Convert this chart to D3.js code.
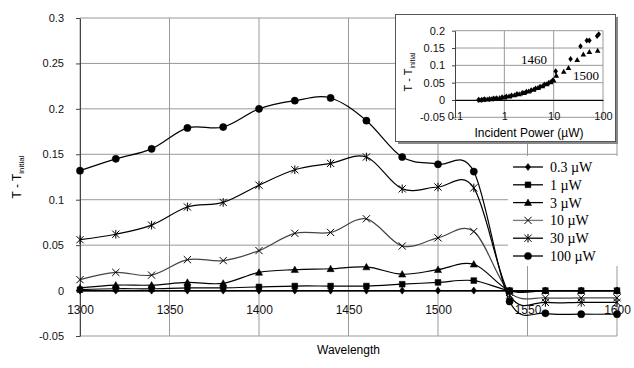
<!DOCTYPE html>
<html>
<head>
<meta charset="utf-8">
<script src="https://cdn.jsdelivr.net/npm/d3@7"></script>
<style>
  body { margin: 0; background: #fff; }
  svg { display: block; }
</style>
</head>
<body>
<div id="chart"></div>
<script>
// wavelength axis (nm)
const wavelengths = [1300, 1320, 1340, 1360, 1380, 1400, 1420, 1440, 1460, 1480, 1500, 1520, 1540, 1560, 1580, 1600];

// T - T_initial per incident power
const p03 = [0, 0, 0, 0, 0, 0, 0, 0, 0, 0, 0, 0, 0, 0, 0, 0];
const p1 = [0.001, 0.002, 0.002, 0.003, 0.003, 0.004, 0.005, 0.005, 0.005, 0.007, 0.009, 0.011, 0, 0, 0, 0];
const p3 = [0.003, 0.006, 0.006, 0.009, 0.008, 0.020, 0.023, 0.024, 0.026, 0.018, 0.023, 0.029, 0, 0, 0, 0];
const p10 = [0.012, 0.020, 0.017, 0.034, 0.033, 0.044, 0.063, 0.064, 0.079, 0.049, 0.058, 0.065, -0.002, -0.008, -0.008, -0.008];
const p30 = [0.056, 0.062, 0.072, 0.092, 0.097, 0.116, 0.133, 0.140, 0.147, 0.112, 0.114, 0.113, -0.005, -0.013, -0.013, -0.013];
const p100 = [0.132, 0.145, 0.156, 0.179, 0.180, 0.200, 0.209, 0.212, 0.187, 0.147, 0.139, 0.131, -0.012, -0.025, -0.026, -0.026];

const seriesNames = ['0.3 \u00b5W', '1 \u00b5W', '3 \u00b5W', '10 \u00b5W', '30 \u00b5W', '100 \u00b5W'];
const seriesValues = [p03, p1, p3, p10, p30, p100];
const seriesMarkers = ['diamond', 'square', 'triangle', 'times', 'star', 'circle'];
const seriesColors = ['#000', '#000', '#000', '#444', '#000', '#000'];

const xTicks = [1300, 1350, 1400, 1450, 1500, 1550, 1600];
const yTicks = [-0.05, 0, 0.05, 0.1, 0.15, 0.2, 0.25, 0.3];

// inset: T - T_initial vs incident power (uW) at 1460 and 1500 nm
const power1460 = [0.3, 0.35, 0.4, 0.5, 0.6, 0.7, 0.9, 1.1, 1.4, 1.8, 2.3, 2.8, 3.5, 4.3, 5.3, 6.5, 8, 9.5, 11, 22, 35, 47, 53, 76, 82];
const dT1460 = [0.001, 0.001, 0.002, 0.003, 0.004, 0.005, 0.008, 0.010, 0.013, 0.017, 0.020, 0.024, 0.028, 0.033, 0.038, 0.045, 0.050, 0.056, 0.083, 0.118, 0.155, 0.172, 0.172, 0.185, 0.190];
const power1500 = [0.32, 0.38, 0.45, 0.55, 0.65, 0.8, 1.0, 1.25, 1.6, 2.0, 2.5, 3.1, 3.9, 4.8, 5.9, 7.2, 8.7, 10, 11.3, 16, 20, 30, 40, 53, 78];
const dT1500 = [0, 0.001, 0.002, 0.003, 0.004, 0.006, 0.008, 0.011, 0.014, 0.017, 0.021, 0.025, 0.030, 0.035, 0.040, 0.046, 0.052, 0.057, 0.071, 0.082, 0.093, 0.116, 0.132, 0.139, 0.143];
const insetXTicks = [0.1, 1, 10, 100];
const insetYTicks = [-0.05, 0, 0.05, 0.1, 0.15, 0.2];

const width = 634, height = 368;
const margin = { top: 18, right: 17, bottom: 32, left: 80 };
const sans = 'Liberation Sans, Arial, sans-serif';
const serif = 'Liberation Serif, Times New Roman, serif';

const svg = d3.select('#chart').append('svg')
  .attr('width', width)
  .attr('height', height);

const x = d3.scaleLinear().domain([1300, 1600]).range([margin.left, width - margin.right]);
const y = d3.scaleLinear().domain([-0.05, 0.3]).range([height - margin.bottom, margin.top]);

// marker paths, centred on 0,0
function marker(type, s) {
  switch (type) {
    case 'diamond': return `M0,${-s}L${s * 0.75},0L0,${s}L${-s * 0.75},0Z`;
    case 'square': return `M${-s * 0.8},${-s * 0.8}h${s * 1.6}v${s * 1.6}h${-s * 1.6}Z`;
    case 'triangle': return `M0,${-s}L${s},${s * 0.8}L${-s},${s * 0.8}Z`;
    case 'times': return `M${-s},${-s}L${s},${s}M${-s},${s}L${s},${-s}`;
    case 'star': return `M${-s},${-s}L${s},${s}M${-s},${s}L${s},${-s}M0,${-s * 1.2}L0,${s * 1.2}`;
    default: return d3.symbol(d3.symbolCircle, Math.PI * s * s)();
  }
}
const isStroke = t => t === 'times' || t === 'star';
const num = d => String(+(+d).toFixed(2));

// ===== grid =====
const grid = svg.append('g');
grid.selectAll('.hgrid')
  .data(yTicks)
  .join('line')
  .attr('x1', x(1300)).attr('x2', x(1600))
  .attr('y1', d => y(d)).attr('y2', d => y(d))
  .attr('stroke', '#999').attr('stroke-width', 1);
grid.selectAll('.vgrid')
  .data(xTicks)
  .join('line')
  .attr('x1', d => x(d)).attr('x2', d => x(d))
  .attr('y1', y(0.3)).attr('y2', y(-0.05))
  .attr('stroke', '#999').attr('stroke-width', 1);

// y axis
svg.append('g')
  .attr('transform', `translate(${x(1300)},0)`)
  .call(d3.axisLeft(y).tickValues(yTicks).tickSize(4).tickSizeOuter(0).tickFormat(num))
  .call(g => g.select('.domain').attr('stroke', '#444'))
  .call(g => g.selectAll('.tick line').attr('stroke', '#444'))
  .call(g => g.selectAll('text').attr('font-family', sans).attr('font-size', 11).attr('fill', '#111').attr('dx', -9));

// x axis at zero
svg.append('g')
  .attr('transform', `translate(0,${y(0)})`)
  .call(d3.axisBottom(x).tickValues(xTicks).tickSize(0).tickPadding(15).tickFormat(d3.format('d')))
  .call(g => g.select('.domain').attr('stroke', '#000'))
  .call(g => g.selectAll('text').attr('font-family', sans).attr('font-size', 12).attr('fill', '#111'));

// ===== series =====
const line = d3.line()
  .x((d, i) => x(wavelengths[i]))
  .y(d => y(d))
  .curve(d3.curveCardinal.tension(0));

seriesValues.forEach((vals, k) => {
  const g = svg.append('g');
  g.append('path')
    .attr('d', line(vals))
    .attr('fill', 'none')
    .attr('stroke', seriesColors[k])
    .attr('stroke-width', 1.2);
  g.selectAll('path.m')
    .data(vals)
    .join('path')
    .attr('class', 'm')
    .attr('transform', (d, i) => `translate(${x(wavelengths[i])},${y(d)})`)
    .attr('d', marker(seriesMarkers[k], 3.6))
    .attr('fill', isStroke(seriesMarkers[k]) ? 'none' : '#000')
    .attr('stroke', '#000')
    .attr('stroke-width', isStroke(seriesMarkers[k]) ? 1 : 0.5);
});

// ===== legend =====
const legend = svg.append('g').attr('transform', 'translate(508,156)');
legend.append('rect').attr('width', 113).attr('height', 110).attr('fill', '#fff');
seriesNames.forEach((name, k) => {
  const ly = 11 + k * 17.8;
  legend.append('line')
    .attr('x1', 5).attr('x2', 35).attr('y1', ly).attr('y2', ly)
    .attr('stroke', k === 3 ? '#777' : '#000').attr('stroke-width', 1.3);
  legend.append('path')
    .attr('transform', `translate(20,${ly})`)
    .attr('d', marker(seriesMarkers[k], 3.6))
    .attr('fill', isStroke(seriesMarkers[k]) ? 'none' : '#000')
    .attr('stroke', '#000')
    .attr('stroke-width', isStroke(seriesMarkers[k]) ? 1 : 0.5);
  legend.append('text')
    .attr('x', 42).attr('y', ly + 5)
    .attr('font-family', serif).attr('font-size', 14)
    .text(name);
});

// axis titles
svg.append('text')
  .attr('x', (x(1300) + x(1600)) / 2).attr('y', 354)
  .attr('text-anchor', 'middle')
  .attr('font-family', sans).attr('font-size', 12)
  .text('Wavelength');

const yTitle = svg.append('text')
  .attr('transform', `translate(21,${(y(0.3) + y(-0.05)) / 2}) rotate(-90)`)
  .attr('text-anchor', 'middle')
  .attr('font-family', sans).attr('font-size', 12);
yTitle.append('tspan').text('T - T');
yTitle.append('tspan').attr('font-size', 8).attr('dy', 3).text('initial');

// ===== inset =====
const inset = svg.append('g');
inset.append('rect').attr('x', 398).attr('y', 17).attr('width', 220).attr('height', 127).attr('fill', '#888');
inset.append('rect').attr('x', 395.5).attr('y', 14.5).attr('width', 220).attr('height', 127)
  .attr('fill', '#fff').attr('stroke', '#555').attr('stroke-width', 1);

const xi = d3.scaleLog().domain([0.1, 100]).range([455, 603]);
const yi = d3.scaleLinear().domain([-0.05, 0.2]).range([117.3, 30.7]);

inset.selectAll('.ihgrid')
  .data(insetYTicks)
  .join('line')
  .attr('x1', xi(0.1)).attr('x2', xi(100))
  .attr('y1', d => yi(d)).attr('y2', d => yi(d))
  .attr('stroke', '#999');
inset.selectAll('.ivgrid')
  .data(insetXTicks.slice(1))
  .join('line')
  .attr('x1', d => xi(d)).attr('x2', d => xi(d))
  .attr('y1', yi(0.2)).attr('y2', yi(-0.05))
  .attr('stroke', '#999');

inset.append('g')
  .attr('transform', `translate(${xi(0.1)},0)`)
  .call(d3.axisLeft(yi).tickValues(insetYTicks).tickSize(3).tickSizeOuter(0).tickFormat(num))
  .call(g => g.select('.domain').attr('stroke', '#444'))
  .call(g => g.selectAll('.tick line').attr('stroke', '#444'))
  .call(g => g.selectAll('text').attr('font-family', sans).attr('font-size', 11).attr('fill', '#111').attr('dx', -4));

inset.append('g')
  .attr('transform', `translate(0,${yi(0)})`)
  .call(d3.axisBottom(xi).tickValues(insetXTicks).tickSize(0).tickPadding(12).tickFormat(d => String(d)))
  .call(g => g.select('.domain').attr('stroke', '#000'))
  .call(g => g.selectAll('text').attr('font-family', sans).attr('font-size', 11).attr('fill', '#111'));

inset.selectAll('.d1460')
  .data(power1460)
  .join('path')
  .attr('transform', (d, i) => `translate(${xi(d)},${yi(dT1460[i])})`)
  .attr('d', marker('diamond', 3));
inset.selectAll('.d1500')
  .data(power1500)
  .join('path')
  .attr('transform', (d, i) => `translate(${xi(d)},${yi(dT1500[i])})`)
  .attr('d', marker('triangle', 2.8));

inset.append('text').attr('x', 534).attr('y', 64)
  .attr('text-anchor', 'middle').attr('font-family', serif).attr('font-size', 13).text('1460');
inset.append('text').attr('x', 586).attr('y', 80)
  .attr('text-anchor', 'middle').attr('font-family', serif).attr('font-size', 13).text('1500');

inset.append('text')
  .attr('x', 529).attr('y', 137)
  .attr('text-anchor', 'middle')
  .attr('font-family', sans).attr('font-size', 12)
  .text('Incident Power (\u00b5W)');

const iyTitle = inset.append('text')
  .attr('transform', `translate(412,72) rotate(-90)`)
  .attr('text-anchor', 'middle')
  .attr('font-family', sans).attr('font-size', 11);
iyTitle.append('tspan').text('T - T');
iyTitle.append('tspan').attr('font-size', 7).attr('dy', 3).text('initial');
</script>
</body>
</html>
